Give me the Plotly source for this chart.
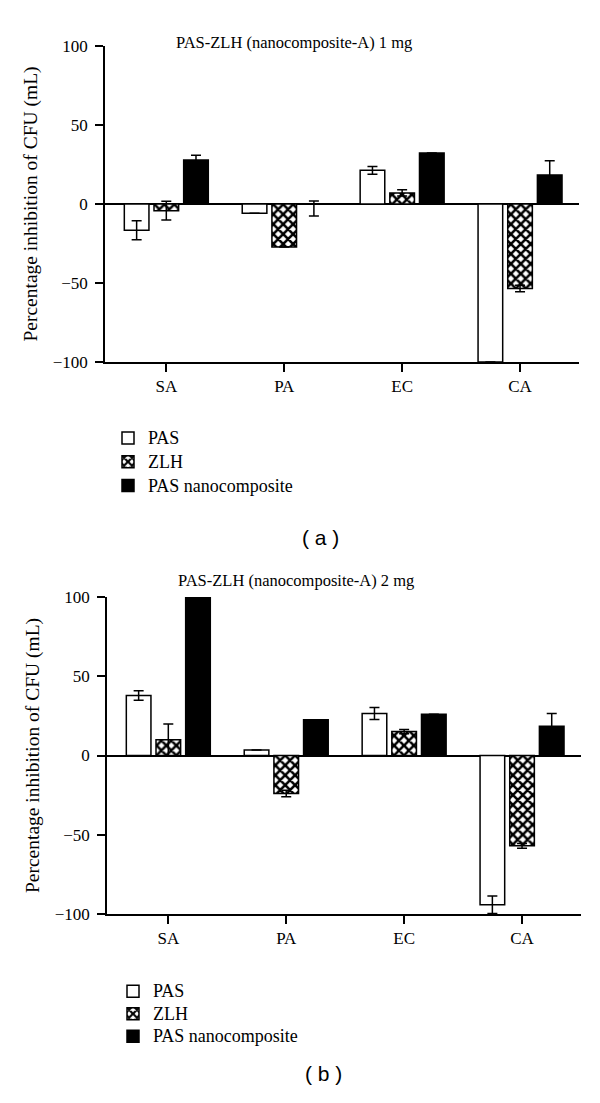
import plotly.graph_objects as go

categories = ["SA", "PA", "EC", "CA"]
series_names = ["PAS", "ZLH", "PAS nanocomposite"]

# Panel (a): 1 mg
a_pas = [-16.6, -5.9, 21.3, -100.0]
a_pas_err = [6.0, 0, 2.5, None]
a_zlh = [-4.2, -27.2, 7.0, -53.5]
a_zlh_err = [6.0, 0, 2.0, 2.0]
a_nano = [27.8, 0.0, 32.3, 18.4]
a_nano_err_plus = [3.0, 1.9, 0, 9.0]
a_nano_err_minus = [3.0, 7.6, 0, 9.0]

# Panel (b): 2 mg
b_pas = [37.9, 3.4, 26.5, -94.2]
b_pas_err = [3.0, 0, 3.8, 5.5]
b_zlh = [9.9, -24.0, 15.1, -57.0]
b_zlh_err = [10.0, 2.0, 1.3, 1.5]
b_nano = [100.0, 22.5, 26.1, 18.5]
b_nano_err_plus = [0, 0, 0, 8.0]
b_nano_err_minus = [0, 0, 0, 8.0]

titles = ["PAS-ZLH (nanocomposite-A) 1 mg", "PAS-ZLH (nanocomposite-A) 2 mg"]
panel_labels = ["( a )", "( b )"]
ytitle = "Percentage inhibition of CFU (mL)"
ytick_vals = [-100, -50, 0, 50, 100]

SERIF = "Liberation Serif, Times New Roman, serif"
SANS = "Liberation Sans, Arial, sans-serif"

W, H = 600, 1103
OFF = 8  # page body margin


def fx(p):
    return (p - OFF) / W


def fy(p):
    return 1 - (p - OFF) / H


fig = go.Figure()


def err(plus, minus=None):
    d = dict(type="data", array=plus, visible=True, color="black",
             thickness=1.5, width=5)
    if minus is not None:
        d["symmetric"] = False
        d["arrayminus"] = minus
    return d


styles = [
    dict(color="white", line=dict(color="black", width=1.5)),
    dict(color="white", line=dict(color="black", width=1.5),
         pattern=dict(shape="x", fgcolor="black", bgcolor="white",
                      solidity=0.6, size=7, fillmode="replace")),
    dict(color="black", line=dict(color="black", width=1.5)),
]

panels = [
    ("x", "y", "legend", [a_pas, a_zlh, a_nano],
     [err(a_pas_err), err(a_zlh_err), err(a_nano_err_plus, a_nano_err_minus)]),
    ("x2", "y2", "legend2", [b_pas, b_zlh, b_nano],
     [err(b_pas_err), err(b_zlh_err), err(b_nano_err_plus, b_nano_err_minus)]),
]

for xa, ya, lg, vals, errs in panels:
    for name, v, e, st in zip(series_names, vals, errs, styles):
        fig.add_trace(go.Bar(
            x=categories, y=v, name='<span style="font-size:18px">%s</span>' % name,
            marker=st, error_y=e,
            xaxis=xa, yaxis=ya, legend=lg, showlegend=True,
        ))

axis_common = dict(showline=True, linecolor="black", linewidth=1.5,
                   ticks="outside", ticklen=8, tickwidth=1.5, tickcolor="black",
                   showgrid=False, automargin=False,
                   tickfont=dict(family=SERIF, size=17, color="black"))

ytitle_d = dict(text=ytitle, font=dict(family=SERIF, size=19.5), standoff=10)

fig.update_layout(
    width=W, height=H,
    template=None,
    margin=dict(l=0, r=0, t=0, b=0, pad=0, autoexpand=False),
    paper_bgcolor="white", plot_bgcolor="white",
    barmode="group", bargap=0.245, bargroupgap=0.17,
    font=dict(family=SERIF, color="black"),
    xaxis=dict(domain=[fx(105), fx(579)], anchor="y", range=[-0.52, 3.5], **axis_common),
    yaxis=dict(domain=[fy(362), fy(46)], anchor="x", range=[-100, 100],
               tickvals=ytick_vals, zeroline=True, zerolinecolor="black",
               zerolinewidth=1.5, ticklabelstandoff=4, title=ytitle_d,
               **axis_common),
    xaxis2=dict(domain=[fx(107), fx(581)], anchor="y2", range=[-0.52, 3.5], **axis_common),
    yaxis2=dict(domain=[fy(914), fy(597)], anchor="x2", range=[-100, 100],
                tickvals=ytick_vals, zeroline=True, zerolinecolor="black",
                zerolinewidth=1.5, ticklabelstandoff=4, title=ytitle_d,
                **axis_common),
    legend=dict(x=fx(108), y=fy(421), xanchor="left", yanchor="top",
                font=dict(family=SERIF, size=16, color="black"),
                bgcolor="rgba(0,0,0,0)", traceorder="normal", itemwidth=30),
    legend2=dict(x=fx(113), y=fy(975), xanchor="left", yanchor="top",
                 font=dict(family=SERIF, size=15, color="black"),
                 bgcolor="rgba(0,0,0,0)", traceorder="normal", itemwidth=30),
    annotations=[
        dict(text=titles[0], x=fx(294), y=fy(31), xref="paper", yref="paper",
             showarrow=False, font=dict(family=SERIF, size=16.5)),
        dict(text=titles[1], x=fx(296), y=fy(580), xref="paper", yref="paper",
             showarrow=False, font=dict(family=SERIF, size=16.5)),
        dict(text=panel_labels[0], x=fx(320), y=fy(537), xref="paper", yref="paper",
             showarrow=False, font=dict(family=SANS, size=21)),
        dict(text=panel_labels[1], x=fx(323), y=fy(1087), xref="paper", yref="paper",
             showarrow=False, font=dict(family=SANS, size=21)),
    ],
)

fig.write_html("out.html")
